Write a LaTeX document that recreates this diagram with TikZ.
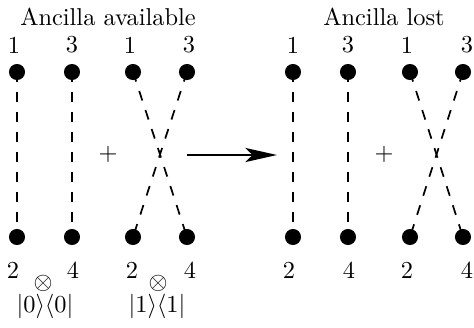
\documentclass[tikz,border=0pt]{standalone}
\usepackage{amssymb}
\usepackage{amsmath}
\usepackage{tikz}
\usetikzlibrary{arrows.meta}

\tikzset{
  qubit/.style={circle,fill=black,inner sep=0pt,minimum size=6.6pt},
  bond/.style={line width=0.7pt,dash pattern=on 4.1pt off 4.1pt},
}

\begin{document}
\begin{tikzpicture}[x=0.41pt,y=-0.41pt]
    \useasboundingbox (0,0) rectangle (474,328);
    % titles
    \node (tA) at (108,17) {Ancilla available};
    \node (tL) at (384,17) {Ancilla lost};
    % qubits, ancilla available
    \coordinate (a1) at (17,72);
    \coordinate (a3) at (72,72);
    \coordinate (a2) at (17,237);
    \coordinate (a4) at (72,237);
    \coordinate (b1) at (133,72);
    \coordinate (b3) at (187,72);
    \coordinate (b2) at (133,237);
    \coordinate (b4) at (187,237);
    % qubits, ancilla lost
    \coordinate (c1) at (293,72);
    \coordinate (c3) at (348,72);
    \coordinate (c2) at (293,237);
    \coordinate (c4) at (348,237);
    \coordinate (d1) at (410,72);
    \coordinate (d3) at (463,72);
    \coordinate (d2) at (410,237);
    \coordinate (d4) at (463,237);
    \draw[bond] (a1) -- (a2);
    \draw[bond] (a3) -- (a4);
    \draw[bond] (b1) -- (b4);
    \draw[bond] (b3) -- (b2);
    \draw[bond] (c1) -- (c2);
    \draw[bond] (c3) -- (c4);
    \draw[bond] (d1) -- (d4);
    \draw[bond] (d3) -- (d2);
    \node[qubit] (na1) at (a1) {};
    \node[qubit] (na3) at (a3) {};
    \node[qubit] (na2) at (a2) {};
    \node[qubit] (na4) at (a4) {};
    \node[qubit] (nb1) at (b1) {};
    \node[qubit] (nb3) at (b3) {};
    \node[qubit] (nb2) at (b2) {};
    \node[qubit] (nb4) at (b4) {};
    \node[qubit] (nc1) at (c1) {};
    \node[qubit] (nc3) at (c3) {};
    \node[qubit] (nc2) at (c2) {};
    \node[qubit] (nc4) at (c4) {};
    \node[qubit] (nd1) at (d1) {};
    \node[qubit] (nd3) at (d3) {};
    \node[qubit] (nd2) at (d2) {};
    \node[qubit] (nd4) at (d4) {};
    % labels
    \node (la1) at (14,45) {1};
    \node (la3) at (72,45) {3};
    \node (lb1) at (130,45) {1};
    \node (lb3) at (189,45) {3};
    \node (la2) at (13,270) {2};
    \node (la4) at (73,270) {4};
    \node (lb2) at (132,270) {2};
    \node (lb4) at (190,270) {4};
    \node (lc1) at (293,45) {1};
    \node (lc3) at (348,45) {3};
    \node (ld1) at (407,45) {1};
    \node (ld3) at (467,45) {3};
    \node (lc2) at (289,270) {2};
    \node (lc4) at (349,270) {4};
    \node (ld2) at (407,270) {2};
    \node (ld4) at (467,270) {4};
    \node (ta) at (43,283) {$\otimes$};
    \node (tb) at (158,283) {$\otimes$};
    \node (ka) at (45,306) {$|0\rangle\langle0|$};
    \node (kb) at (157,306) {$|1\rangle\langle1|$};
    \node (pA) at (108,154) {$+$};
    \node (pL) at (384,154) {$+$};
    \coordinate (s) at (187,155);
    \coordinate (e) at (277,155);
    \draw[line width=0.9pt,-{Stealth[length=13pt,width=5.8pt,inset=3pt]}] (s) -- (e);
\end{tikzpicture}
\end{document}
